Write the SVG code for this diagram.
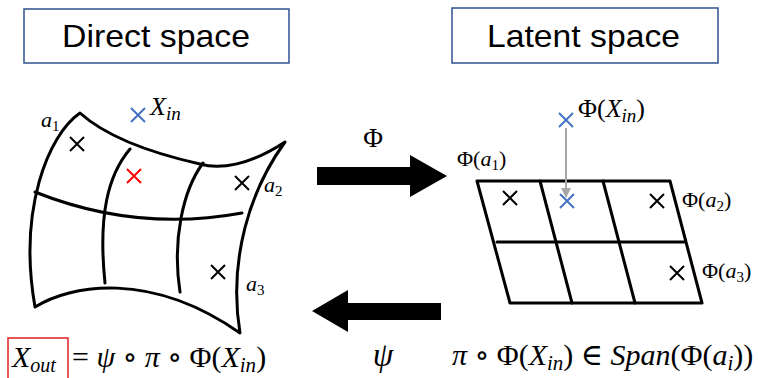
<svg xmlns="http://www.w3.org/2000/svg" width="758" height="378" viewBox="0 0 758 378">
<style>
.hdr{fill:#fff;stroke:#2f528f;stroke-width:1.5}
.ht{font-family:"Liberation Sans",Arial,sans-serif;font-size:32px;fill:#000}
.m{font-family:"Liberation Serif","DejaVu Serif",serif;fill:#000}
.i{font-style:italic}
.e{fill:none;stroke:#000;stroke-width:3;stroke-linecap:round;stroke-linejoin:round}
.x{stroke:#000;stroke-width:2}
.xb{stroke:#4472c4;stroke-width:2}
.xr{stroke:#ff0000;stroke-width:2}
</style>
<defs>
<marker id="ga" viewBox="0 0 10 10" refX="9" refY="5" markerWidth="5" markerHeight="5" orient="auto"><path d="M0,0 L10,5 L0,10 z" fill="#a6a6a6"/></marker>
</defs>
<rect width="758" height="378" fill="#fff"/>

<g id="direct-header">
<rect class="hdr" x="24" y="9" width="265" height="54"/>
<text class="ht" x="62" y="47" textLength="188" lengthAdjust="spacingAndGlyphs">Direct space</text>
</g>
<g id="latent-header">
<rect class="hdr" x="452" y="8" width="266" height="55"/>
<text class="ht" x="487" y="47" textLength="193" lengthAdjust="spacingAndGlyphs">Latent space</text>
</g>

<g id="direct-surface">
<path class="e" d="M80,113 C48,135 18,210 35,307 C70,285 150,270 240,333 C228,260 250,190 285,142 C250,165 220,170 200,164 C160,155 110,140 80,113 Z"/>
<path class="e" d="M35,192 C80,210 150,230 242,213"/>
<path class="e" d="M130,149 C108,175 98,215 105,283"/>
<path class="e" d="M203,163 C183,190 172,240 180,292"/>
<path class="x" d="M70,137 L84,151 M84,137 L70,151"/>
<path class="xr" d="M127,169 L141,183 M141,169 L127,183"/>
<path class="x" d="M235,176 L249,190 M249,176 L235,190"/>
<path class="x" d="M211,265 L225,279 M225,265 L211,279"/>
<text class="m i" x="41" y="127" font-size="22">a<tspan font-size="15" font-style="normal" dy="4">1</tspan></text>
<text class="m i" x="264" y="192" font-size="22">a<tspan font-size="15" font-style="normal" dy="4">2</tspan></text>
<text class="m i" x="246" y="291" font-size="22">a<tspan font-size="15" font-style="normal" dy="4">3</tspan></text>
</g>

<g id="x-in">
<path class="xb" d="M131,108 L145,122 M145,108 L131,122"/>
<text class="m i" x="150" y="115" font-size="26">X<tspan font-size="19" dy="5">in</tspan></text>
</g>

<g id="latent-grid">
<path class="e" d="M477,181 L670,181 L702,303 L510,303 Z"/>
<path class="e" d="M497,242 L685,242"/>
<path class="e" d="M540,181 L572,303"/>
<path class="e" d="M603,181 L635,303"/>
<path class="x" d="M503,191 L517,205 M517,191 L503,205"/>
<path class="xb" d="M560,194 L574,208 M574,194 L560,208"/>
<path class="x" d="M650,194 L664,208 M664,194 L650,208"/>
<path class="x" d="M670,266 L684,280 M684,266 L670,280"/>
<text class="m" x="457" y="166" font-size="22">Φ(<tspan class="i">a</tspan><tspan font-size="15" dy="4">1</tspan><tspan dy="-4">)</tspan></text>
<text class="m" x="682" y="207" font-size="22">Φ(<tspan class="i">a</tspan><tspan font-size="15" dy="4">2</tspan><tspan dy="-4">)</tspan></text>
<text class="m" x="702" y="278" font-size="22">Φ(<tspan class="i">a</tspan><tspan font-size="15" dy="4">3</tspan><tspan dy="-4">)</tspan></text>
</g>

<g id="phi-x-in">
<path class="xb" d="M559,113 L573,127 M573,113 L559,127"/>
<text class="m" x="578" y="117" font-size="26">Φ(<tspan class="i">X</tspan><tspan class="i" font-size="19" dy="5">in</tspan><tspan dy="-5">)</tspan></text>
</g>

<g id="connectors">
<line x1="566" y1="128" x2="566" y2="197" stroke="#a6a6a6" stroke-width="2" marker-end="url(#ga)"/>
<path d="M317,167 L410,167 L410,155 L447,176 L410,197 L410,185 L317,185 Z" fill="#000"/>
<path d="M441,303 L348,303 L348,290 L312,311 L348,332 L348,320 L441,320 Z" fill="#000"/>
<text class="m" x="373" y="147" font-size="27" text-anchor="middle">Φ</text>
<text class="m i" x="383" y="366" font-size="33" text-anchor="middle">ψ</text>
</g>

<g id="formula-left">
<rect x="8" y="338" width="60" height="42" fill="none" stroke="#e02020" stroke-width="1.5"/>
<text class="m" x="12" y="367" font-size="30"><tspan class="i">X</tspan><tspan class="i" font-size="20" dy="5">out</tspan><tspan x="72" dy="-5">= </tspan><tspan class="i">ψ</tspan> ∘ <tspan class="i">π</tspan> ∘ Φ(<tspan class="i">X</tspan><tspan class="i" font-size="21" dy="5">in</tspan><tspan dy="-5">)</tspan></text>
</g>

<g id="formula-right">
<text class="m" x="452" y="365" font-size="30"><tspan class="i">π</tspan> ∘ Φ(<tspan class="i">X</tspan><tspan class="i" font-size="21" dy="5">in</tspan><tspan dy="-5">) ∈ </tspan><tspan class="i">Span</tspan>(Φ(<tspan class="i">a</tspan><tspan class="i" font-size="21" dy="5">i</tspan><tspan dy="-5">))</tspan></text>
</g>
</svg>
